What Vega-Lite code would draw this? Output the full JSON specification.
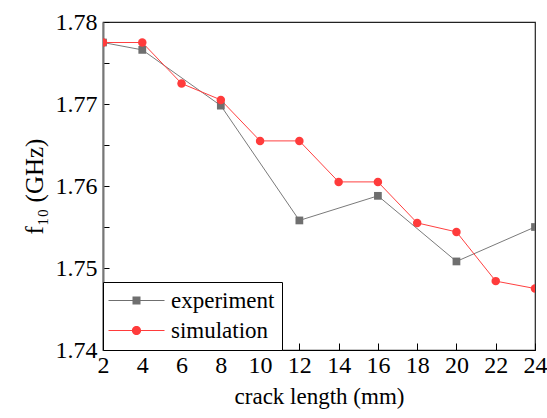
{
  "$schema": "https://vega.github.io/schema/vega-lite/v6.json",
  "width": 432,
  "height": 328,
  "autosize": {"type": "none"},
  "padding": {"left": 103, "top": 22, "right": 12, "bottom": 68},
  "config": {
    "view": {"stroke": "#222", "strokeWidth": 1.2},
    "font": "Liberation Serif",
    "legend": {
      "orient": "bottom-left",
      "offset": 0,
      "padding": 7,
      "strokeColor": "#000",
      "fillColor": "#fff",
      "labelFont": "Liberation Serif",
      "labelFontSize": 23,
      "labelColor": "#000",
      "symbolSize": 64,
      "symbolOffset": 15,
      "labelOffset": 23,
      "rowPadding": 6,
      "symbolStrokeWidth": 0,
      "symbolOpacity": 1
    }
  },
  "data": {
    "values": [
      {"series": "experiment", "length": 2, "f": 1.7775},
      {"series": "experiment", "length": 4, "f": 1.7766},
      {"series": "experiment", "length": 8, "f": 1.7698},
      {"series": "experiment", "length": 12, "f": 1.7558},
      {"series": "experiment", "length": 16, "f": 1.7588},
      {"series": "experiment", "length": 20, "f": 1.7508},
      {"series": "experiment", "length": 24, "f": 1.7550},
      {"series": "simulation", "length": 2, "f": 1.7775},
      {"series": "simulation", "length": 4, "f": 1.7775},
      {"series": "simulation", "length": 6, "f": 1.7725},
      {"series": "simulation", "length": 8, "f": 1.7705},
      {"series": "simulation", "length": 10, "f": 1.7655},
      {"series": "simulation", "length": 12, "f": 1.7655},
      {"series": "simulation", "length": 14, "f": 1.7605},
      {"series": "simulation", "length": 16, "f": 1.7605},
      {"series": "simulation", "length": 18, "f": 1.7555},
      {"series": "simulation", "length": 20, "f": 1.7544},
      {"series": "simulation", "length": 22, "f": 1.7484},
      {"series": "simulation", "length": 24, "f": 1.7475}
    ]
  },
  "encoding": {
    "x": {
      "field": "length",
      "type": "quantitative",
      "scale": {"domain": [2, 24], "nice": false, "zero": false},
      "axis": {
        "values": [2, 4, 6, 8, 10, 12, 14, 16, 18, 20, 22, 24],
        "title": "crack length (mm)",
        "grid": false,
        "tickSize": -7,
        "tickColor": "#000",
        "domainColor": "#000",
        "domainWidth": 1.2,
        "labelFont": "Liberation Serif",
        "labelFontSize": 24,
        "labelColor": "#000",
        "labelPadding": 10,
        "labelFlush": false,
        "labelOverlap": false,
        "titleFont": "Liberation Serif",
        "titleFontSize": 23,
        "titleFontWeight": "normal",
        "titleColor": "#000",
        "titlePadding": 8
      }
    },
    "y": {
      "field": "f",
      "type": "quantitative",
      "scale": {"domain": [1.74, 1.78], "nice": false, "zero": false},
      "axis": {
        "values": [1.74, 1.745, 1.75, 1.755, 1.76, 1.765, 1.77, 1.775, 1.78],
        "labelExpr": "round(datum.value * 1000) % 10 === 0 ? format(datum.value, '.2f') : ''",
        "title": "f₁₀ (GHz)",
        "grid": false,
        "tickSize": -6,
        "tickColor": "#000",
        "domainColor": "#777",
        "domainWidth": 2,
        "labelFont": "Liberation Serif",
        "labelFontSize": 24,
        "labelColor": "#000",
        "labelPadding": 12,
        "labelFlush": false,
        "labelOverlap": false,
        "titleFont": "Liberation Serif",
        "titleFontSize": 25,
        "titleFontWeight": "normal",
        "titleColor": "#000",
        "titlePadding": 8
      }
    }
  },
  "layer": [
    {
      "transform": [{"filter": "datum.series === 'experiment'"}],
      "mark": {"type": "line", "clip": true, "strokeWidth": 1, "color": "#7a7a7a"},
      "encoding": {}
    },
    {
      "transform": [{"filter": "datum.series === 'simulation'"}],
      "mark": {"type": "line", "clip": true, "strokeWidth": 1, "color": "#ff4040"},
      "encoding": {}
    },
    {
      "transform": [{"filter": "datum.series === 'experiment'"}],
      "mark": {"type": "point", "shape": "square", "filled": true, "clip": true, "opacity": 1, "size": 60, "color": "#6f6f6f"}
    },
    {
      "transform": [{"filter": "datum.series === 'simulation'"}],
      "mark": {"type": "point", "shape": "circle", "filled": true, "clip": true, "opacity": 1, "size": 72, "color": "#ff3b3b"}
    },
    {
      "mark": {"type": "point", "filled": true, "opacity": 0, "size": 64},
      "encoding": {
        "color": {
          "field": "series",
          "type": "nominal",
          "scale": {"domain": ["experiment", "simulation"], "range": ["#6f6f6f", "#ff3b3b"]},
          "legend": {"title": null}
        },
        "shape": {
          "field": "series",
          "type": "nominal",
          "scale": {"domain": ["experiment", "simulation"], "range": ["M-7,-0.125H7V0.125H-7ZM-1,-1H1V1H-1Z", "M-7,-0.125H7V0.125H-7ZM1.15,0A1.15,1.15,0,1,1,-1.15,0A1.15,1.15,0,1,1,1.15,0Z"]},
          "legend": {"title": null}
        }
      }
    }
  ]
}
